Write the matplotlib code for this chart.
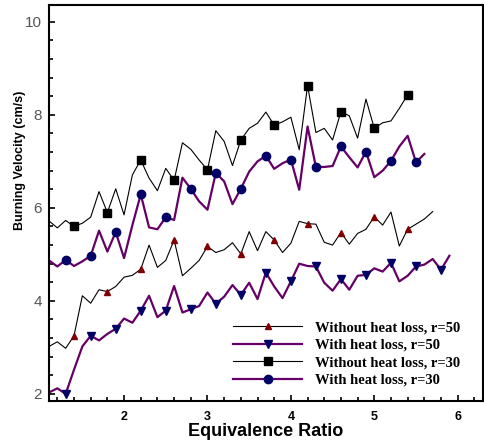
import numpy as np
import matplotlib
matplotlib.use('Agg')
import matplotlib.pyplot as plt
from matplotlib.ticker import MultipleLocator

## figure settings
_FIG_SIZE = (4.85, 4.41)
_FIG_DPI = 100

# equivalence ratio grid
phi = [1.1, 1.2, 1.3, 1.4, 1.5, 1.6, 1.7, 1.8, 1.9, 2.0,
       2.1, 2.2, 2.3, 2.4, 2.5, 2.6, 2.7, 2.8, 2.9, 3.0,
       3.1, 3.2, 3.3, 3.4, 3.5, 3.6, 3.7, 3.8, 3.9, 4.0,
       4.1, 4.2, 4.3, 4.4, 4.5, 4.6, 4.7, 4.8, 4.9, 5.0,
       5.1, 5.2, 5.3, 5.4, 5.5, 5.6, 5.7, 5.8, 5.9]

# burning velocity (cm/s)
noloss_r50 = [3.02, 3.12, 2.98, 3.25, 4.11, 3.95, 4.24, 4.20, 4.31, 4.51,
              4.55, 4.68, 5.20, 4.72, 4.87, 5.31, 4.54, 4.70, 4.87, 5.17,
              5.04, 5.10, 5.25, 5.01, 5.49, 5.08, 5.49, 5.31, 5.04, 5.24,
              5.71, 5.66, 5.65, 5.26, 5.20, 5.47, 5.22, 5.45, 5.54, 5.81,
              5.63, 5.91, 5.18, 5.54, 5.65, 5.76, 5.92]
loss_r50 = [2.03, 2.12, 2.00, 2.52, 3.02, 3.25, 3.15, 3.29, 3.40, 3.62,
            3.53, 3.79, 4.11, 3.65, 3.79, 4.32, 3.75, 3.82, 3.89, 4.18,
            3.94, 4.09, 4.34, 4.13, 4.39, 4.04, 4.61, 4.31, 4.06, 4.42,
            4.80, 4.75, 4.74, 4.39, 4.22, 4.47, 4.24, 4.54, 4.56, 4.70,
            4.63, 4.82, 4.42, 4.54, 4.74, 4.78, 4.90, 4.67, 4.97]
noloss_r30 = [5.72, 5.57, 5.73, 5.60, 5.67, 5.80, 6.35, 5.90, 6.41, 5.85,
              6.71, 7.03, 6.64, 6.37, 6.85, 6.59, 7.40, 7.26, 7.03, 6.82,
              7.66, 7.43, 6.91, 7.46, 7.71, 7.82, 8.06, 7.78, 7.85, 7.95,
              7.25, 8.63, 7.62, 7.71, 7.46, 8.07, 7.98, 7.50, 8.34, 7.71,
              7.83, 7.87, 8.14, 8.43]
loss_r30 = [4.87, 4.74, 4.88, 4.75, 4.85, 4.97, 5.51, 5.06, 5.48, 4.92,
            5.63, 6.29, 5.58, 5.54, 5.80, 5.74, 6.65, 6.41, 6.14, 5.96,
            6.75, 6.57, 6.08, 6.41, 6.78, 7.00, 7.12, 6.84, 6.96, 7.04,
            6.39, 7.75, 6.88, 6.88, 6.90, 7.32, 7.09, 6.87, 7.21, 6.66,
            6.80, 7.01, 7.32, 7.55, 6.98, 7.16]

labels = ['Without heat loss, r=50', 'With heat loss, r=50',
          'Without heat loss, r=30', 'With heat loss, r=30']

purple = '#660066'
navy = '#000066'
sans = ['Liberation Sans', 'DejaVu Sans']

fig = plt.figure(figsize=_FIG_SIZE, dpi=_FIG_DPI)
ax = fig.add_axes([0.101, 0.091, 0.895, 0.898])

ax.plot(phi[:len(noloss_r50)], noloss_r50, color='black', lw=0.8,
        marker='^', ms=5, mfc='#800000', mec='#800000',
        markevery=slice(3, None, 4), label=labels[0])
ax.plot(phi[:len(loss_r50)], loss_r50, color=purple, lw=1.6,
        marker='v', ms=5.5, mfc=navy, mec=navy,
        markevery=slice(2, None, 3), label=labels[1])
ax.plot(phi[:len(noloss_r30)], noloss_r30, color='black', lw=0.8,
        marker='s', ms=5.5, mfc='black', mec='black',
        markevery=slice(3, None, 4), label=labels[2])
ax.plot(phi[:len(loss_r30)], loss_r30, color=purple, lw=1.6,
        marker='o', ms=6, mfc=navy, mec=navy,
        markevery=slice(2, None, 3), label=labels[3])

ax.set_xlim(1.1, 6.304)
ax.set_ylim(1.85, 10.366)
ax.xaxis.set_major_locator(MultipleLocator(1))
ax.xaxis.set_minor_locator(MultipleLocator(0.2))
ax.yaxis.set_major_locator(MultipleLocator(2))
ax.yaxis.set_minor_locator(MultipleLocator(0.4))

for s in ax.spines.values():
    s.set_linewidth(1.5)
ax.tick_params(which='both', direction='in', top=False, right=False, width=1.2)
ax.tick_params(which='major', length=4.5)
ax.tick_params(which='minor', length=3)
ax.tick_params(axis='x', pad=7)
ax.tick_params(axis='y', pad=5, labelcolor='#555555')

for t in ax.get_xticklabels():
    t.set_family(sans)
    t.set_fontweight('bold')
    t.set_fontsize(9)
for t in ax.get_yticklabels():
    t.set_family(sans)
    t.set_fontsize(11)

ax.set_xlabel('Equivalence Ratio', family=sans, fontweight='bold', fontsize=13)
ax.xaxis.set_label_coords(0.5, -0.055)
ax.set_ylabel('Burning Velocity (cm/s)', family=sans, fontweight='bold', fontsize=9)
ax.yaxis.set_label_coords(-0.052, 0.607)

leg = ax.legend(loc='lower left', bbox_to_anchor=(0.408, 0.017), frameon=False,
                borderpad=0, handlelength=4.7, handletextpad=0.9, labelspacing=0.3,
                prop={'family': ['Liberation Serif', 'DejaVu Serif'],
                      'weight': 'bold', 'size': 10.5})

plt.savefig('out.png', dpi=_FIG_DPI)
